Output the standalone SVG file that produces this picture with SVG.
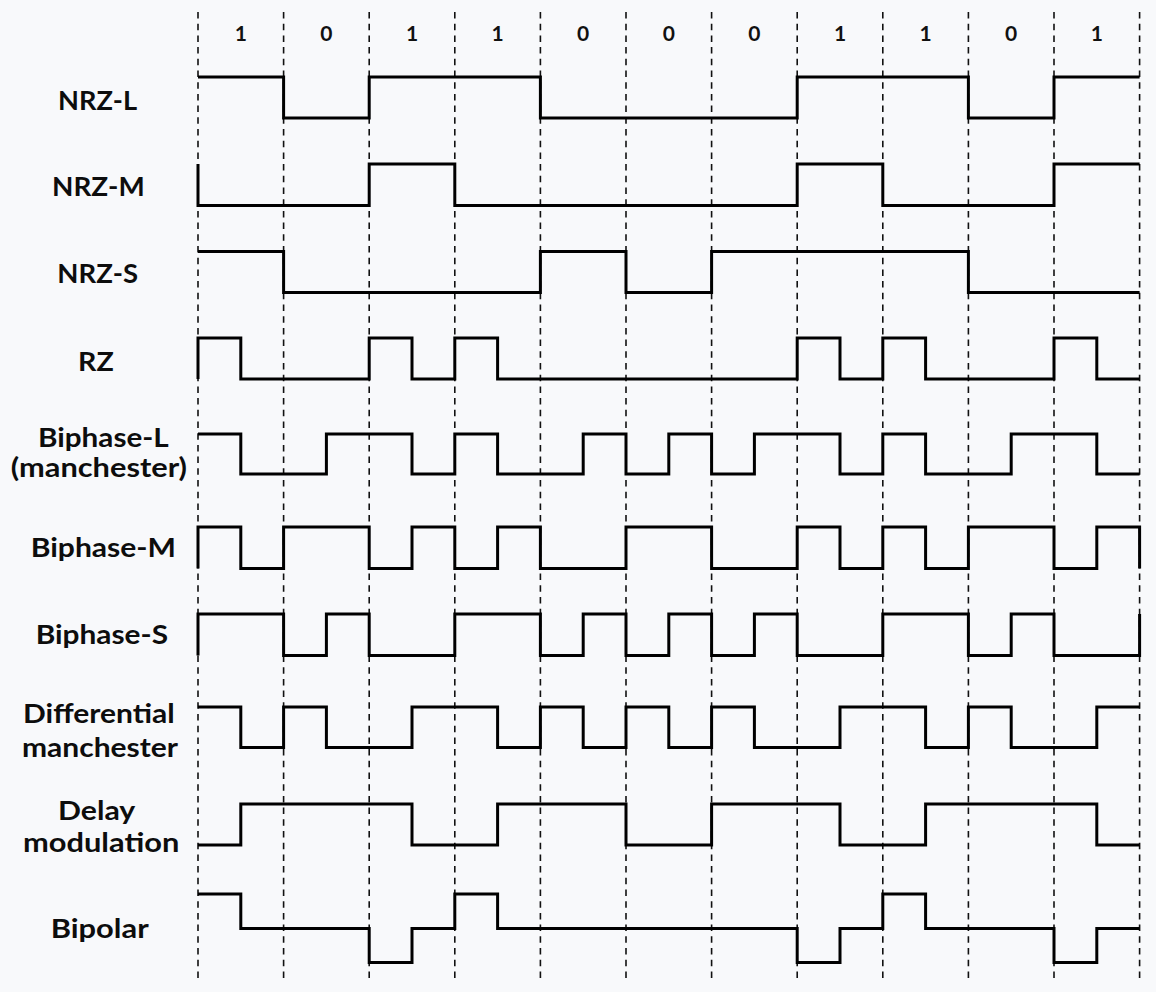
<svg xmlns="http://www.w3.org/2000/svg" width="1156" height="992" viewBox="0 0 1156 992">
<style>
.bg{fill:#f8f9fb}
.grid line{stroke:#111;stroke-width:1.6;stroke-dasharray:6.5 5.2}
.lbl{font-family:Lato,"Open Sans","Liberation Sans",sans-serif;font-weight:bold;font-size:27px;fill:#0d0d0d}
.bit{font-family:Lato,"Open Sans","Liberation Sans",sans-serif;font-weight:bold;font-size:21px;fill:#111;text-anchor:middle}
.sig{fill:none;stroke:#000;stroke-width:3;stroke-linejoin:miter;stroke-linecap:butt}
</style>
<rect class="bg" x="0" y="0" width="1156" height="992"/>
<g id="grid" class="grid">
<line x1="198" y1="12" x2="198" y2="980"/>
<line x1="283.6" y1="12" x2="283.6" y2="980"/>
<line x1="369.2" y1="12" x2="369.2" y2="980"/>
<line x1="454.8" y1="12" x2="454.8" y2="980"/>
<line x1="540.4" y1="12" x2="540.4" y2="980"/>
<line x1="626" y1="12" x2="626" y2="980"/>
<line x1="711.6" y1="12" x2="711.6" y2="980"/>
<line x1="797.2" y1="12" x2="797.2" y2="980"/>
<line x1="882.8" y1="12" x2="882.8" y2="980"/>
<line x1="968.4" y1="12" x2="968.4" y2="980"/>
<line x1="1054" y1="12" x2="1054" y2="980"/>
<line x1="1139.6" y1="12" x2="1139.6" y2="980"/>
</g>
<g id="bits" class="bit">
<text x="240.8" y="41">1</text>
<text x="326.4" y="41">0</text>
<text x="412" y="41">1</text>
<text x="497.6" y="41">1</text>
<text x="583.2" y="41">0</text>
<text x="668.8" y="41">0</text>
<text x="754.4" y="41">0</text>
<text x="840" y="41">1</text>
<text x="925.6" y="41">1</text>
<text x="1011.2" y="41">0</text>
<text x="1096.8" y="41">1</text>
</g>
<g id="nrz-l">
<text class="lbl" x="58" y="109.5" textLength="79" lengthAdjust="spacingAndGlyphs">NRZ-L</text>
<path class="sig" d="M198,77 H283.6 V118 H369.2 V77 H540.4 V118 H797.2 V77 H968.4 V118 H1054 V77 H1139.6"/>
</g>
<g id="nrz-m">
<text class="lbl" x="52" y="196" textLength="92.7" lengthAdjust="spacingAndGlyphs">NRZ-M</text>
<path class="sig" d="M198,164 V205.5 H369.2 V164 H454.8 V205.5 H797.2 V164 H882.8 V205.5 H1054 V164 H1139.6"/>
</g>
<g id="nrz-s">
<text class="lbl" x="57.3" y="283" textLength="80.7" lengthAdjust="spacingAndGlyphs">NRZ-S</text>
<path class="sig" d="M198,251.5 H283.6 V292.5 H540.4 V251.5 H626 V292.5 H711.6 V251.5 H968.4 V292.5 H1139.6"/>
</g>
<g id="rz">
<text class="lbl" x="78" y="371" textLength="35.7" lengthAdjust="spacingAndGlyphs">RZ</text>
<path class="sig" d="M198,379 V338 H240.8 V379 H369.2 V338 H412 V379 H454.8 V338 H497.6 V379 H797.2 V338 H840 V379 H882.8 V338 H925.6 V379 H1054 V338 H1096.8 V379 H1139.6"/>
</g>
<g id="biphase-l">
<text class="lbl" x="38" y="447.3" textLength="130.7" lengthAdjust="spacingAndGlyphs">Biphase-L</text>
<text class="lbl" x="10.7" y="476.7" textLength="176.3" lengthAdjust="spacingAndGlyphs">(manchester)</text>
<path class="sig" d="M198,434 H240.8 V474 H326.4 V434 H412 V474 H454.8 V434 H497.6 V474 H583.2 V434 H626 V474 H668.8 V434 H711.6 V474 H754.4 V434 H840 V474 H882.8 V434 H925.6 V474 H1011.2 V434 H1096.8 V474 H1139.6"/>
</g>
<g id="biphase-m">
<text class="lbl" x="30.7" y="557.3" textLength="145.3" lengthAdjust="spacingAndGlyphs">Biphase-M</text>
<path class="sig" d="M198,568.5 V527 H240.8 V568.5 H283.6 V527 H369.2 V568.5 H412 V527 H454.8 V568.5 H497.6 V527 H540.4 V568.5 H626 V527 H711.6 V568.5 H797.2 V527 H840 V568.5 H882.8 V527 H925.6 V568.5 H968.4 V527 H1054 V568.5 H1096.8 V527 H1139.6 V568.5"/>
</g>
<g id="biphase-s">
<text class="lbl" x="35.7" y="644.3" textLength="132.3" lengthAdjust="spacingAndGlyphs">Biphase-S</text>
<path class="sig" d="M198,655.5 V614 H283.6 V655.5 H326.4 V614 H369.2 V655.5 H454.8 V614 H540.4 V655.5 H583.2 V614 H626 V655.5 H668.8 V614 H711.6 V655.5 H754.4 V614 H797.2 V655.5 H882.8 V614 H968.4 V655.5 H1011.2 V614 H1054 V655.5 H1139.6 V614"/>
</g>
<g id="differential-manchester">
<text class="lbl" x="23" y="722.5" textLength="151.7" lengthAdjust="spacingAndGlyphs">Differential</text>
<text class="lbl" x="22" y="756.5" textLength="156" lengthAdjust="spacingAndGlyphs">manchester</text>
<path class="sig" d="M198,707 H240.8 V747.5 H283.6 V707 H326.4 V747.5 H412 V707 H497.6 V747.5 H540.4 V707 H583.2 V747.5 H626 V707 H668.8 V747.5 H711.6 V707 H754.4 V747.5 H840 V707 H925.6 V747.5 H968.4 V707 H1011.2 V747.5 H1096.8 V707 H1139.6"/>
</g>
<g id="delay-modulation">
<text class="lbl" x="58" y="820" textLength="77.3" lengthAdjust="spacingAndGlyphs">Delay</text>
<text class="lbl" x="23" y="851.7" textLength="156.3" lengthAdjust="spacingAndGlyphs">modulation</text>
<path class="sig" d="M198,845 H240.8 V804 H412 V845 H497.6 V804 H626 V845 H711.6 V804 H840 V845 H925.6 V804 H1096.8 V845 H1139.6"/>
</g>
<g id="bipolar">
<text class="lbl" x="50.7" y="938.3" textLength="98" lengthAdjust="spacingAndGlyphs">Bipolar</text>
<path class="sig" d="M198,894 H240.8 V928.5 H369.2 V962.5 H412 V928.5 H454.8 V894 H497.6 V928.5 H797.2 V962.5 H840 V928.5 H882.8 V894 H925.6 V928.5 H1054 V962.5 H1096.8 V928.5 H1139.6"/>
</g>
</svg>
